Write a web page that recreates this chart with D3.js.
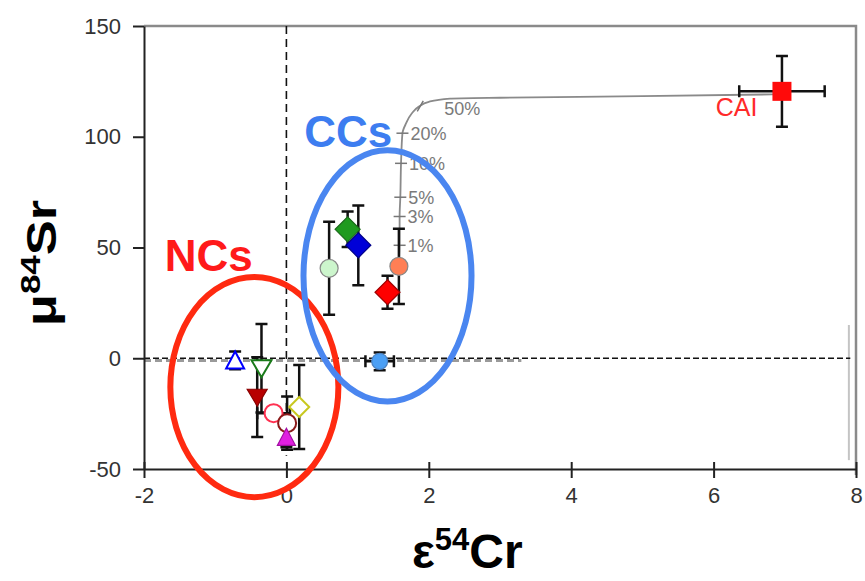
<!DOCTYPE html>
<html lang="en">

<head>
  <meta charset="UTF-8" />
  <title>Sr-Cr isotopes</title>
  <style>
    body {
      margin: 0;
      background: #fff;
    }

    svg text {
      font-family: "Liberation Sans", Arial, sans-serif;
    }

    .axis text {
      font-size: 22px;
      fill: #333;
    }

    .axis path,
    .axis line {
      stroke: #222;
      stroke-width: 2px;
    }

    .ebar {
      stroke: #111;
      stroke-width: 2.5px;
      fill: none;
    }
  </style>
</head>

<body>
  <script src="https://d3js.org/d3.v7.min.js"></script>
  <script>
    // axis ticks
    const xTicks = [-2, 0, 2, 4, 6, 8];
    const yTicks = [-50, 0, 50, 100, 150];

    // meteorite points (eps54Cr, mu84Sr, errors, marker)
    const ptX = [-0.72, -0.35, -0.41, -0.18, 0.01, 0.0, 0.18, 0.60, 0.86, 1.01, 1.58, 1.42, 1.31];
    const ptY = [-1, -4.5, -17.6, -24.8, -29.3, -35.7, -22, 40.6, 58.2, 51, 41.5, 29.8, -1.4];
    const ptXErr = [0, 0, 0, 0.23, 0, 0, 0, 0, 0, 0, 0, 0, 0.2];
    const ptYErr = [4, 20, 18, 0, 12, 4.5, 19, 21, 8, 18, 17, 7.5, 4];
    const ptShape = ["triUp", "triDown", "triDown", "circle", "circle", "triUp", "diamondS", "circle", "diamond", "diamond", "circle", "diamond", "circleS"];
    const ptFill = ["#fff", "#fff", "#b80000", "#fff", "#fff", "#e020e0", "#fff", "#ccf5cc", "#1f9a1f", "#0000d8", "#ff7f55", "#ff0000", "#4a9ff5"];
    const ptStroke = ["#0000ff", "#1a7a1a", "#8a0000", "#ff3050", "#8b1a1a", "#a010a0", "#c8c820", "#888", "#1a6a1a", "#00008a", "#888", "#a00000", "#4a80c0"];

    // CAI end member
    const caiX = 6.96, caiY = 120.5, caiXErr = 0.6, caiYErr = 16;

    // mixing curve
    const mixX = [1.58, 1.59, 1.59, 1.60, 1.61, 1.63, 1.68, 1.76, 1.86, 2.0, 2.3, 3.0, 5.0, 6.96];
    const mixY = [41.5, 51, 64, 72.7, 88, 101.6, 106, 110.5, 113.6, 115.8, 117.2, 117.6, 118.3, 119.2];
    const mixPct = ["1%", "3%", "5%", "10%", "20%", "50%"];
    const mixPctX = [1.59, 1.59, 1.60, 1.61, 1.63, 1.88];
    const mixPctY = [51, 64, 72.7, 88, 101.6, 113.8];

    // group ellipses and labels
    const grpName = ["NCs", "CCs"];
    const grpColor = ["#ff2a10", "#4a86f0"];
    const grpText = ["#ff1a1a", "#3d7df0"];
    const grpCx = [-0.45, 1.42];
    const grpCy = [-13, 37.2];
    const grpRx = [1.18, 1.18];
    const grpRy = [49.7, 56.7];
    const grpLabX = [-1.71, 0.25];
    const grpLabY = [39.5, 95.5];

    const width = 865, height = 581;
    const margin = { left: 144, right: 9, top: 26, bottom: 112 };

    const svg = d3.select("body").append("svg")
      .attr("width", width)
      .attr("height", height);

    const x = d3.scaleLinear().domain([-2, 8]).range([margin.left, width - margin.right]);
    const y = d3.scaleLinear().domain([-50, 150]).range([height - margin.bottom, margin.top]);

    // frame (top + right)
    svg.append("path")
      .attr("d", `M${x(-2)},${y(150)}H${x(8)}V${y(-50) + 6}`)
      .attr("fill", "none")
      .attr("stroke", "#8a8a8a")
      .attr("stroke-width", 2.5);

    // leftover grey edge line
    svg.append("line")
      .attr("x1", x(7.9)).attr("x2", x(7.9))
      .attr("y1", y(15)).attr("y2", y(-46))
      .attr("stroke", "#c4c4c4")
      .attr("stroke-width", 2);

    // zero lines
    svg.append("line")
      .attr("x1", x(-2)).attr("x2", x(3.3))
      .attr("y1", y(-1)).attr("y2", y(-1))
      .attr("stroke", "#9a9a9a")
      .attr("stroke-width", 3)
      .attr("stroke-dasharray", "7,4");
    svg.append("line")
      .attr("x1", x(-2)).attr("x2", x(7.92))
      .attr("y1", y(0)).attr("y2", y(0))
      .attr("stroke", "#111")
      .attr("stroke-width", 1.6)
      .attr("stroke-dasharray", "6,3");
    svg.append("line")
      .attr("x1", x(0)).attr("x2", x(0))
      .attr("y1", y(150)).attr("y2", y(-44))
      .attr("stroke", "#111")
      .attr("stroke-width", 1.6)
      .attr("stroke-dasharray", "8,5");

    // axes
    const xAxis = svg.append("g")
      .attr("class", "axis")
      .attr("transform", `translate(0,${y(-50)})`)
      .call(d3.axisBottom(x).tickValues(xTicks).tickFormat(d => String(d))
        .tickSize(9).tickPadding(9).tickSizeOuter(0));
    xAxis.selectAll(".tick line").attr("y1", -7);

    svg.append("g")
      .attr("class", "axis")
      .attr("transform", `translate(${x(-2)},0)`)
      .call(d3.axisLeft(y).tickValues(yTicks).tickFormat(d => String(d))
        .tickSize(11).tickPadding(12).tickSizeOuter(0));

    // mixing curve
    const mix = mixX.map((d, i) => [d, mixY[i]]);
    svg.append("path")
      .datum(mix)
      .attr("fill", "none")
      .attr("stroke", "#8a8a8a")
      .attr("stroke-width", 1.8)
      .attr("d", d3.line().x(d => x(d[0])).y(d => y(d[1])).curve(d3.curveMonotoneY));

    const pct = svg.append("g");
    mixPct.forEach((t, i) => {
      pct.append("line")
        .attr("x1", x(mixPctX[i]) - 6).attr("x2", x(mixPctX[i]) + 6)
        .attr("y1", y(mixPctY[i])).attr("y2", y(mixPctY[i]))
        .attr("stroke", "#777")
        .attr("stroke-width", 1.5)
        .attr("transform", i == 5 ? `rotate(-60,${x(mixPctX[i])},${y(mixPctY[i])})` : null);
      pct.append("text")
        .attr("x", x(mixPctX[i]) + (i == 5 ? 24 : 8))
        .attr("y", y(mixPctY[i]) + (i == 5 ? 9 : 7))
        .attr("font-size", 18)
        .attr("fill", "#7a7a7a")
        .text(t);
    });

    // error bars
    const cap = 6;
    const bars = svg.append("g").attr("class", "ebar");
    function errBar(cx, cy, ex, ey) {
      if (ey > 0) {
        bars.append("path").attr("d",
          `M${x(cx)},${y(cy - ey)}V${y(cy + ey)}` +
          `M${x(cx) - cap},${y(cy - ey)}h${cap * 2}M${x(cx) - cap},${y(cy + ey)}h${cap * 2}`);
      }
      if (ex > 0) {
        bars.append("path").attr("d",
          `M${x(cx - ex)},${y(cy)}H${x(cx + ex)}` +
          `M${x(cx - ex)},${y(cy) - cap}v${cap * 2}M${x(cx + ex)},${y(cy) - cap}v${cap * 2}`);
      }
    }
    ptX.forEach((d, i) => errBar(d, ptY[i], ptXErr[i], ptYErr[i]));
    errBar(caiX, caiY, caiXErr, caiYErr);

    // marker shapes
    function shapePath(s) {
      if (s == "triUp") return "M0,-9L9,8L-9,8Z";
      if (s == "triDown") return "M0,9L10,-8L-10,-8Z";
      if (s == "diamond") return "M0,-12.5L12.5,0L0,12.5L-12.5,0Z";
      if (s == "diamondS") return "M0,-10L10,0L0,10L-10,0Z";
      if (s == "square") return "M-9.5,-9.5H9.5V9.5H-9.5Z";
      return null;
    }

    const marks = svg.append("g");
    ptX.forEach((d, i) => {
      const s = ptShape[i];
      let m;
      if (s == "circle" || s == "circleS") {
        m = marks.append("circle").attr("r", s == "circle" ? 9 : 8);
      } else {
        m = marks.append("path").attr("d", shapePath(s));
      }
      m.attr("transform", `translate(${x(d)},${y(ptY[i])})`)
        .attr("fill", ptFill[i])
        .attr("stroke", ptStroke[i])
        .attr("stroke-width", ptFill[i] == "#fff" ? 2 : 1.2);
    });

    marks.append("path")
      .attr("d", shapePath("square"))
      .attr("transform", `translate(${x(caiX)},${y(caiY)})`)
      .attr("fill", "#ff0a0a");

    svg.append("text")
      .attr("x", x(6.03))
      .attr("y", y(109.5))
      .attr("font-size", 25)
      .attr("fill", "#ff2a2a")
      .text("CAI");

    // group ellipses
    grpName.forEach((g, i) => {
      svg.append("ellipse")
        .attr("cx", x(grpCx[i]))
        .attr("cy", y(grpCy[i]))
        .attr("rx", x(grpRx[i]) - x(0))
        .attr("ry", y(0) - y(grpRy[i]))
        .attr("fill", "none")
        .attr("stroke", grpColor[i])
        .attr("stroke-width", 6);
      svg.append("text")
        .attr("x", x(grpLabX[i]))
        .attr("y", y(grpLabY[i]))
        .attr("font-size", 44)
        .attr("font-weight", "bold")
        .attr("fill", grpText[i])
        .text(g);
    });

    // axis titles
    const xt = svg.append("text")
      .attr("x", 412)
      .attr("y", height - 13)
      .attr("font-size", 48)
      .attr("font-weight", "bold")
      .attr("fill", "#000");
    xt.append("tspan").text("ε");
    xt.append("tspan").attr("font-size", 31).attr("dy", -18).text("54");
    xt.append("tspan").attr("dy", 18).text("Cr");

    const yt = svg.append("text")
      .attr("text-anchor", "middle")
      .attr("transform", `translate(56,${y(43)}) rotate(-90) scale(1.25,1)`)
      .attr("font-size", 42)
      .attr("font-weight", "bold")
      .attr("fill", "#000");
    yt.append("tspan").text("μ");
    yt.append("tspan").attr("font-size", 28).attr("dy", -16).text("84");
    yt.append("tspan").attr("dy", 16).text("Sr");
  </script>
</body>

</html>
